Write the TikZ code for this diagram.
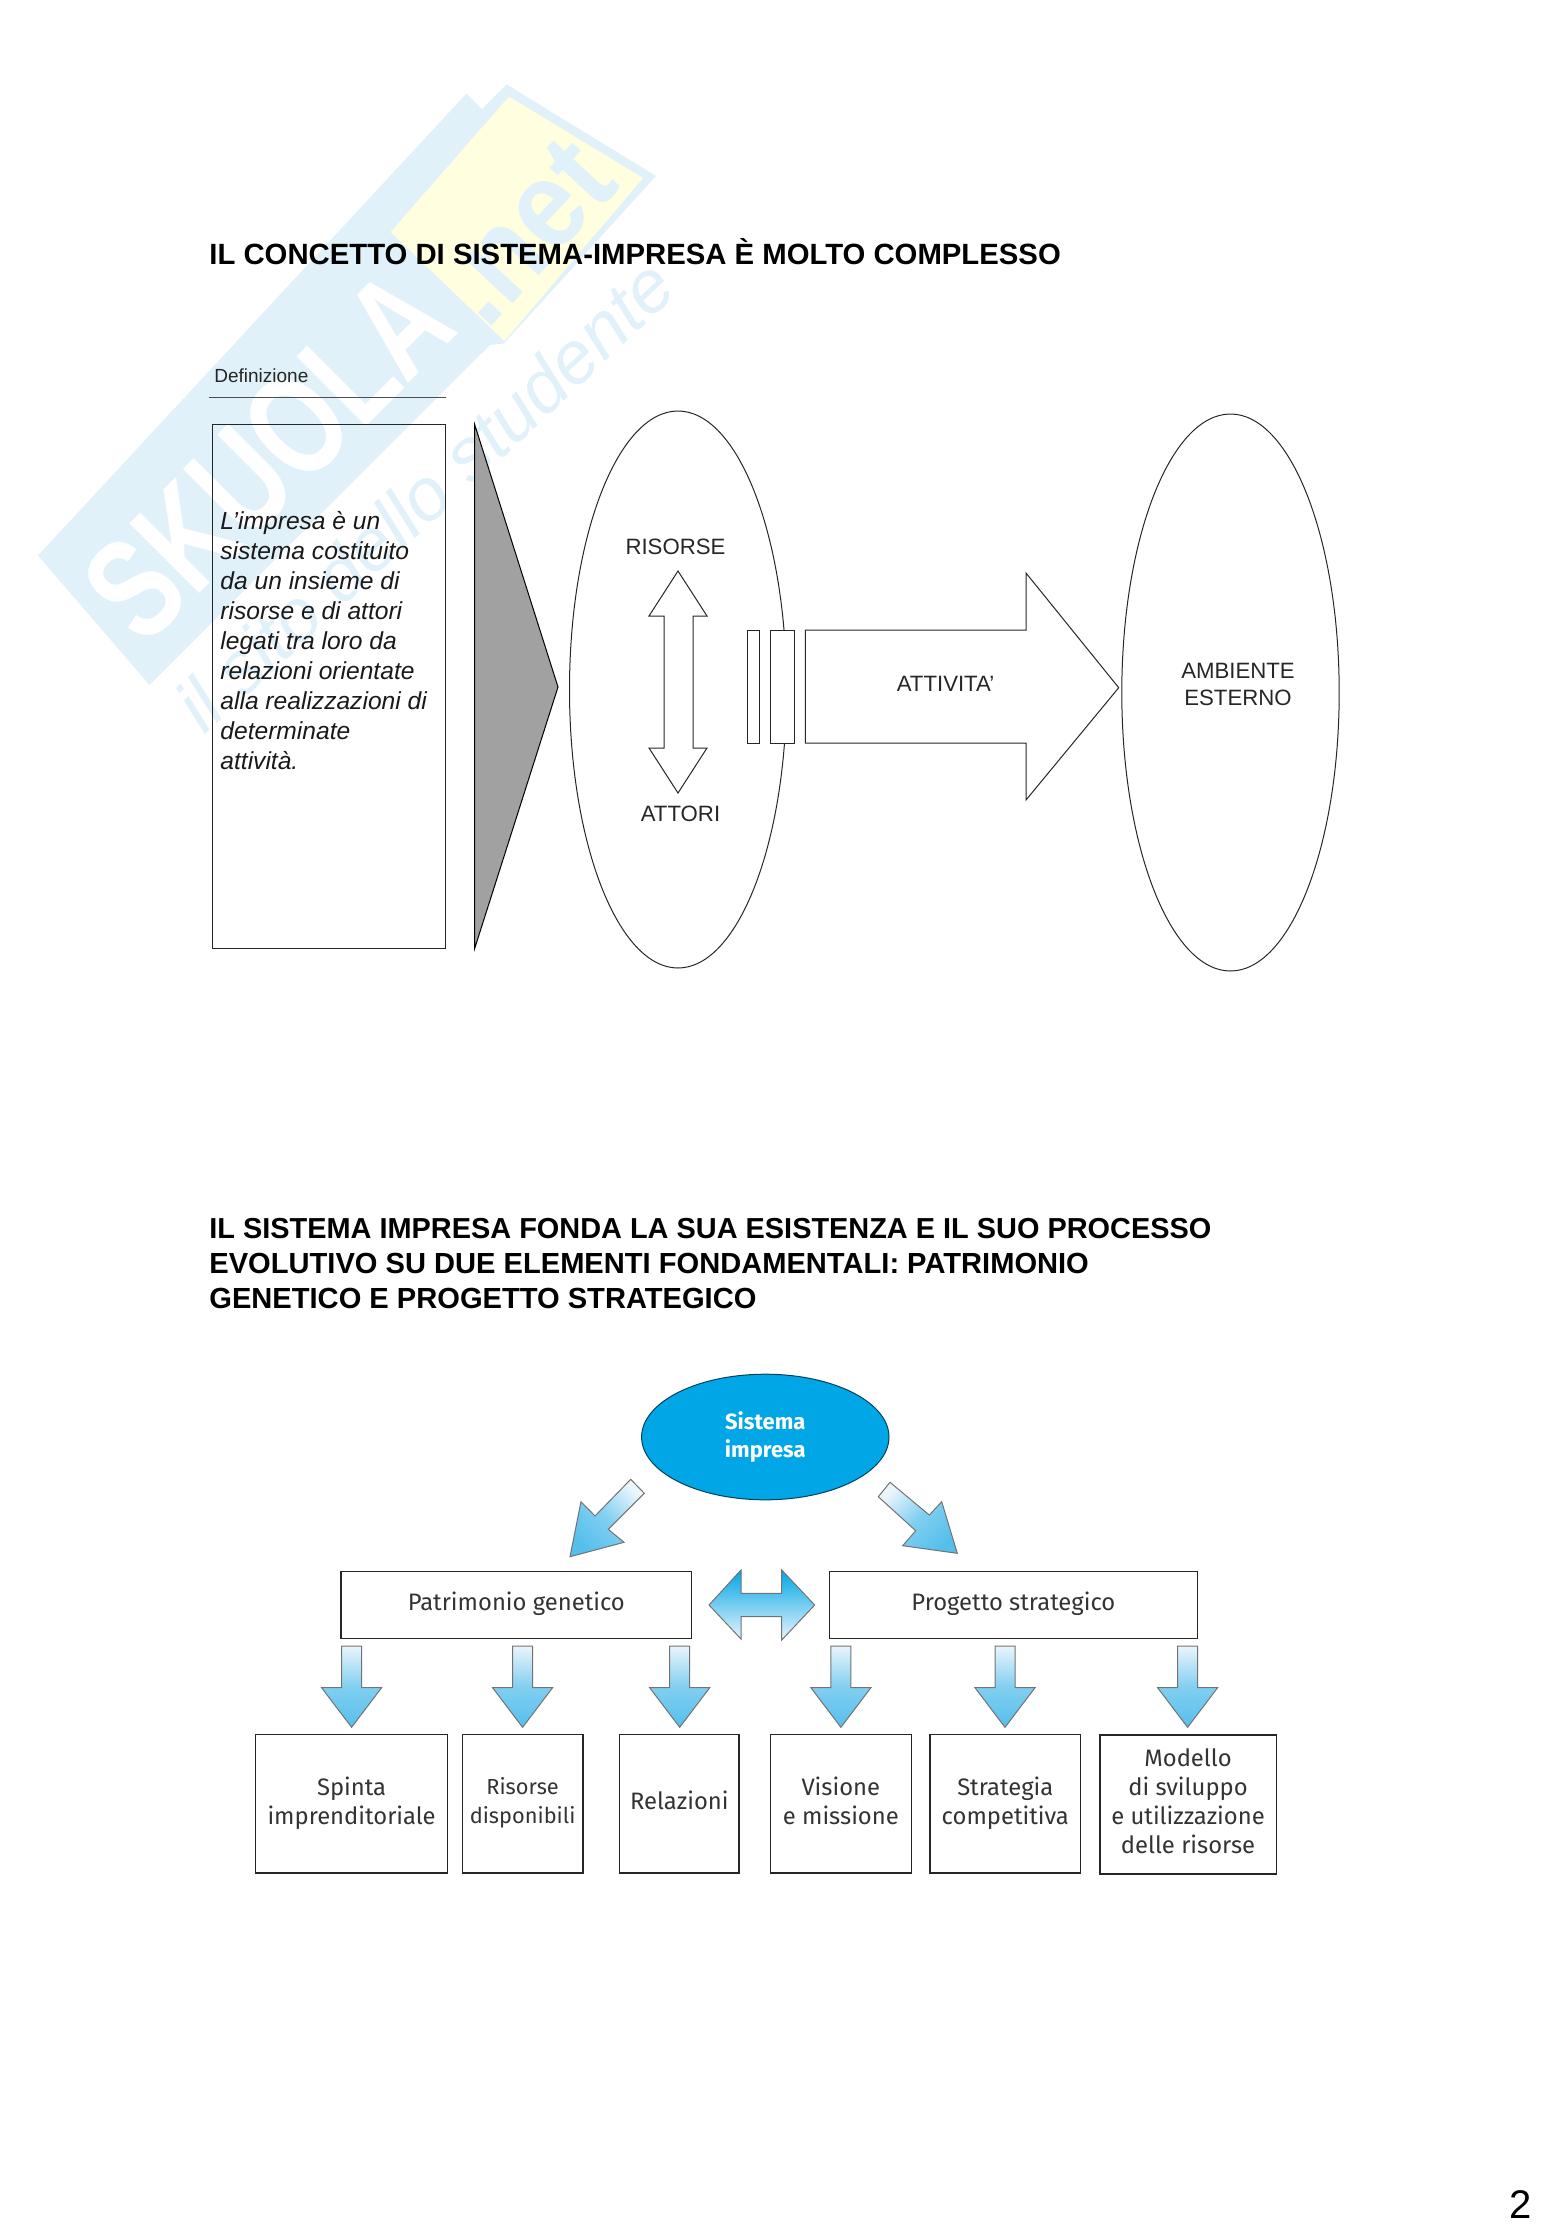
\documentclass[tikz,border=0pt]{standalone}
\usepackage{fontspec}
\setmainfont{Liberation Sans}
\newfontfamily\figfont{Fira Sans}
\usetikzlibrary{shapes.geometric,calc}
\definecolor{wmblue}{HTML}{E1F1FA}
\definecolor{wmyellow}{HTML}{FFFFE0}
\definecolor{skyblue}{HTML}{00A6E6}
\definecolor{palesky}{HTML}{EAF5FC}
\definecolor{midsky}{HTML}{55BFEC}
\definecolor{figtext}{HTML}{333333}
\newcommand{\fl}{\rule[-3.3pt]{0pt}{11.1pt}}
\newcommand{\fp}{\rule[-4pt]{0pt}{10.4pt}}
\tikzset{
  headline/.style={anchor=north west,inner sep=0,align=left,font=\fontsize{14.6}{17.5}\selectfont\bfseries},
  lab/.style={inner sep=0,align=center,font=\fontsize{11.1}{13.4}\selectfont,text=black!85},
  thin shape/.style={draw=black!85,line width=0.5pt},
  oval/.style={ellipse,thin shape,inner sep=0},
  figbox/.style={rectangle,draw=black!85,line width=0.7pt,inner sep=0,align=center,text=figtext,font=\figfont\fontsize{11.9}{14.4}\selectfont},
  blockarrow/.style={draw=black!55,line width=0.5pt,top color=palesky,bottom color=midsky,middle color=midsky!70!palesky},
  wmletters/.style={inner sep=0,rotate=45,yscale=1.35,text=white,font=\fontsize{53}{53}\selectfont\bfseries},
}
\newcommand{\downarrowat}[2]{%
  \coordinate (#1) at (#2,1646);
  \path[blockarrow] ($(#1)+(-10,0)$) -- ($(#1)+(10,0)$) -- ($(#1)+(10,41.7)$) -- ($(#1)+(30,41.7)$)
    -- ($(#1)+(0,81.3)$) -- ($(#1)+(-30,41.7)$) -- ($(#1)+(-10,41.7)$) -- cycle;
}
\begin{document}
\begin{tikzpicture}[x=0.5pt,y=-0.5pt]
\useasboundingbox (0,0) rectangle (1553,2239);
% watermark
\fill[wmblue] (38,555.5) -- (466.5,93.5) -- (482,109) -- (506.7,84.5) -- (656,176) -- (504,343.5) -- (490,345) -- (149.5,685) -- cycle;
\fill[wmyellow] (509,96.6) -- (643,178) -- (504.5,341) -- (390.6,232) -- cycle;
\node[wmletters] (wmA) at (268,455) {SKUOLA};
\node[inner sep=0,rotate=47,yscale=1.1,text=wmblue,font=\fontsize{56}{56}\selectfont\bfseries] (wmB) at (525,232) {.net};
\node[inner sep=0,rotate=43,text=wmblue,font=\fontsize{37}{37}\selectfont\itshape] (wmC) at (424,495) {il sito dello studente};
% top part
\node[headline,font=\fontsize{14.65}{17.5}\selectfont\bfseries] (title1) at (209,238) {IL CONCETTO DI SISTEMA-IMPRESA È MOLTO COMPLESSO};
\node[anchor=base west,inner sep=0,font=\fontsize{9.5}{11}\selectfont,text=black!85] (defn) at (214,382.5) {Definizione};
\coordinate (ruleL) at (209,397);
\coordinate (ruleR) at (445.5,397);
\draw[black!70,line width=0.5pt] (ruleL) -- (ruleR);
\node[rectangle,thin shape,minimum width=116.3pt,minimum height=262pt,inner sep=0] (defbox) at (329.2,686) {};
\node[anchor=north west,inner sep=0,align=left,font=\fontsize{12.3}{15}\selectfont\itshape,text=black!90] (deftext) at (220,511) {L’impresa è un\\sistema costituito\\da un insieme di\\risorse e di attori\\legati tra loro da\\relazioni orientate\\alla realizzazioni di\\determinate\\attività.};
\fill[black!37] (474.5,424) -- (558,687) -- (474.5,949) -- cycle;
\draw[black,line width=0.5pt] (474.5,424) -- (558,687) -- (474.5,949) -- cycle;
\node[oval,minimum width=108.5pt,minimum height=278.5pt] (oval1) at (678,689.5) {};
\node[oval,minimum width=108.7pt,minimum height=278.5pt] (oval2) at (1230.5,692.5) {};
\node[lab] (risorse) at (675.5,547) {RISORSE};
\node[lab] (attori) at (680.5,814) {ATTORI};
\path[thin shape] (678,571) -- (707,616) -- (693,616) -- (693,748) -- (707,748) -- (678,793) -- (649,748) -- (664,748) -- (664,616) -- (649,616) -- cycle;
\node[rectangle,thin shape,minimum width=6.2pt,minimum height=56.5pt,inner sep=0] (bar1) at (753.5,686.5) {};
\node[rectangle,thin shape,fill=white,minimum width=11.8pt,minimum height=56.5pt,inner sep=0] (bar2) at (782.5,686.5) {};
\path[thin shape] (805.3,630) -- (1026,630) -- (1026,573) -- (1118.7,687.7) -- (1026,800) -- (1026,743) -- (805.3,743) -- cycle;
\node[lab] (attivita) at (945.5,684) {ATTIVITA’};
\node[lab] (ambiente) at (1238,684.5) {AMBIENTE\\ESTERNO};
% lower part
\node[headline,font=\fontsize{14.45}{17.5}\selectfont\bfseries] (title2) at (209,1218) {IL SISTEMA IMPRESA FONDA LA SUA ESISTENZA E IL SUO PROCESSO\\\fontsize{14.55}{17.5}\selectfont EVOLUTIVO SU DUE ELEMENTI FONDAMENTALI: PATRIMONIO\\\fontsize{14.55}{17.5}\selectfont GENETICO E PROGETTO STRATEGICO};
\node[ellipse,fill=skyblue,draw=black!60!skyblue,line width=0.5pt,inner sep=0,minimum width=123.7pt,minimum height=62.8pt,align=center,text=white,font=\figfont\bfseries\fontsize{11}{14.4}\selectfont] (sistema) at (765.3,1437) {Sistema\\impresa};
\path[blockarrow,shading angle=-45] (630.7,1479.3) -- (644.3,1493.3) -- (608.3,1529.3) -- (624,1542.3) -- (570,1556.7) -- (581,1501.7) -- (595,1516) -- cycle;
\path[blockarrow,shading angle=45] (890,1482.3) -- (878.3,1496.7) -- (915.7,1530.7) -- (902.7,1545.7) -- (957.3,1553.3) -- (941.7,1501.7) -- (929.3,1515) -- cycle;
\node[figbox,minimum width=175.3pt,minimum height=33.3pt] (patrimonio) at (516.3,1605) {\fp Patrimonio genetico};
\node[figbox,minimum width=184.2pt,minimum height=33.3pt] (progetto) at (1013.4,1605) {\fp Progetto strategico};
\path[draw=black!55,line width=0.5pt,top color=skyblue,bottom color=palesky] (709,1605) -- (741,1570) -- (741,1593.3) -- (781.7,1593.3) -- (781.7,1570) -- (814.7,1605) -- (781.7,1640) -- (781.7,1616.7) -- (741,1616.7) -- (741,1639) -- cycle;
\downarrowat{d1}{351.6}
\downarrowat{d2}{522.6}
\downarrowat{d3}{679.7}
\downarrowat{d4}{840.9}
\downarrowat{d5}{1005}
\downarrowat{d6}{1187.6}
\node[figbox,minimum width=96pt,minimum height=69.4pt] (b1) at (351.6,1803.7) {\fl Spinta\\\fl imprenditoriale};
\node[figbox,minimum width=60.2pt,minimum height=69.4pt,font=\figfont\fontsize{10.9}{14.4}\selectfont] (b2) at (522.6,1803.7) {\fl Risorse\\\fl disponibili};
\node[figbox,minimum width=59.8pt,minimum height=69.4pt] (b3) at (679.3,1803.7) {\fl Relazioni};
\node[figbox,minimum width=70.6pt,minimum height=69.4pt] (b4) at (840.8,1803.7) {\fl Visione\\\fl e missione};
\node[figbox,minimum width=75.2pt,minimum height=69.4pt] (b5) at (1005.3,1803.7) {\fl Strategia\\\fl competitiva};
\node[figbox,minimum width=88.2pt,minimum height=69.4pt] (b6) at (1188,1804.5) {\fl Modello\\\fl di sviluppo\\\fl e utilizzazione\\\fl delle risorse};
\node[inner sep=0,font=\fontsize{20}{24}\selectfont] (page) at (1520.5,2205) {2};
\end{tikzpicture}
\end{document}
